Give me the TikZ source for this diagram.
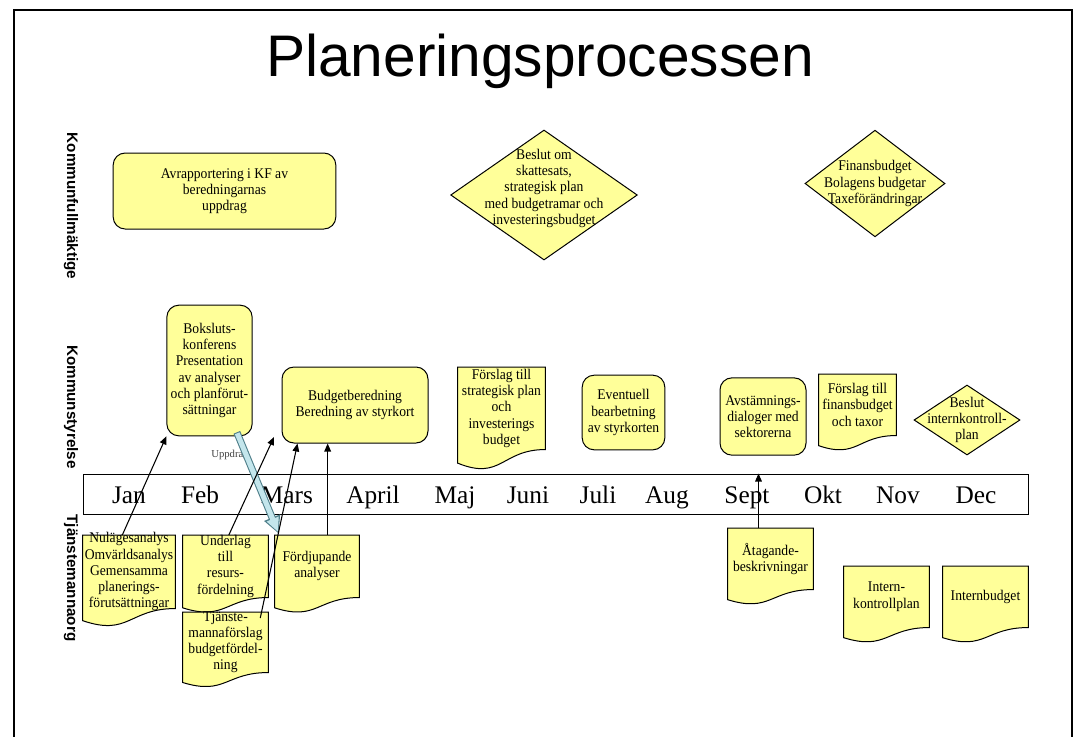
\documentclass[tikz,border=0pt]{standalone}
\usepackage{fontspec}
\setmainfont{Liberation Serif}
\setsansfont{Liberation Sans}
\newfontfamily\planfont[FakeStretch=0.92]{Liberation Serif}
\usetikzlibrary{arrows.meta,positioning,shapes.geometric,calc,backgrounds}
\definecolor{planInk}{HTML}{000000}
\definecolor{planYellow}{HTML}{FFFF99}
\definecolor{planCyan}{HTML}{C4E6EC}
\definecolor{planCyanEdge}{HTML}{4F7F8A}
\definecolor{planGray}{HTML}{404040}
\tikzset{
  every picture/.style={font=\planfont\fontsize{11.1}{12.2}\selectfont, text=planInk},
  every label/.style={align=center, inner sep=0pt},
  plan box/.style={draw=planInk, line width=0.75pt, rounded corners=9pt,
    fill=planYellow, align=center, inner sep=2pt},
  plan doc/.style={inner sep=0pt},
  plan doc fill/.style={draw=planInk, line width=0.75pt, fill=planYellow},
  plan diamond/.style={diamond, draw=planInk, line width=0.75pt,
    fill=planYellow, inner sep=0pt},
  plan arrow/.style={-{Triangle[length=6pt,width=5pt]},
    draw=planInk, line width=0.8pt},
  plan lane/.style={rotate=-90, font=\sffamily\bfseries\fontsize{11.4}{13}\selectfont},
  plan month/.style={anchor=base, font=\rmfamily\fontsize{19}{22}\selectfont},
  uppdrag edge/.style={-{Triangle[length=13pt,width=12pt]},
    draw=planCyanEdge, line width=5.4pt},
  uppdrag fill/.style={-{Triangle[length=10.5pt,width=9pt]},
    draw=planCyan, line width=3.8pt, shorten >=1.4pt, shorten <=0.8pt}
}

\begin{document}
\begin{tikzpicture}[x=0.75pt,y=-0.75pt]
  \useasboundingbox (0,0) rectangle (1080,736);
  \draw[line width=2pt] (14,740) -- (14,10) -- (1072,10) -- (1072,740);
  \node[anchor=base, font=\sffamily\fontsize{44}{50}\selectfont] (title)
    at (540,76) {Planeringsprocessen};

  % lanes
  \node[plan lane] (kf) at (71,206) {Kommunfullmäktige};
  \node[plan lane] (ks) at (71,407) {Kommunstyrelse};
  \node[plan lane] (tj) at (71,578) {Tjänstemannaorg};

  % month bar
  \node[draw=planInk, line width=0.75pt, minimum width=708.75pt,
    minimum height=30pt, inner sep=0pt] (bar) at (555.5,494) {};
  \foreach \x/\m in {129/Jan,200/Feb,287/Mars,373/April,455/Maj,528/Juni,
      598/Juli,667/Aug,747/Sept,823/Okt,898/Nov,976/Dec}
    \node[plan month] (m\m) at (\x,503) {\m};

  % kommunfullmaktige
  \node[plan box, minimum width=167pt, minimum height=57pt] (avr)
    at (224.5,191) {Avrapportering i KF av\\beredningarnas\\uppdrag};
  \node[plan diamond, minimum width=140pt, minimum height=97.5pt,
    label={[yshift=5pt]center:Beslut om\\skattesats,\\strategisk plan\\med budgetramar och\\investeringsbudget}]
    (bes) at (544,195) {};
  \node[plan diamond, minimum width=105pt, minimum height=80pt,
    label={center:Finansbudget\\Bolagens budgetar\\Taxeförändringar}]
    (fin) at (875,183.5) {};

  % kommunstyrelse
  \node[plan box, minimum width=64pt, minimum height=98pt] (bok)
    at (209.5,370.5) {Boksluts-\\konferens\\Presentation\\av analyser\\och planförut-\\sättningar};
  \node[plan box, minimum width=109.5pt, minimum height=57pt] (bud)
    at (355,405) {Budgetberedning\\Beredning av styrkort};
  \node[plan doc, minimum width=65.25pt, minimum height=61.5pt, anchor=north,
    label={center:Förslag till\\strategisk plan\\och\\investerings\\budget}]
    (fsp) at (501.5,367) {};
  \node[plan box, minimum width=62pt, minimum height=56pt] (eve)
    at (623.5,412.5) {Eventuell\\bearbetning\\av styrkorten};
  \node[plan box, minimum width=64.5pt, minimum height=58pt] (avs)
    at (763,416.5) {Avstämnings-\\dialoger med\\sektorerna};
  \node[plan doc, minimum width=57.75pt, minimum height=45.75pt, anchor=north,
    label={center:Förslag till\\finansbudget\\och taxor}]
    (ffb) at (857.5,374) {};
  \node[plan diamond, minimum width=79.5pt, minimum height=52.5pt,
    label={center:Beslut\\internkontroll-\\plan}]
    (bik) at (967,420) {};

  % tjanstemannaorg
  \node[plan doc, minimum width=69pt, minimum height=54.75pt, anchor=north,
    label={center:Nulägesanalys\\Omvärldsanalys\\Gemensamma\\planerings-\\förutsättningar}]
    (nul) at (129,535) {};
  \node[plan doc, minimum width=63.75pt, minimum height=46.5pt, anchor=north,
    label={center:Underlag\\till\\resurs-\\fördelning}]
    (und) at (225.5,535) {};
  \node[plan doc, minimum width=63.75pt, minimum height=45pt, anchor=north,
    label={center:Tjänste-\\mannaförslag\\budgetfördel-\\ning}]
    (tjm) at (225.5,612) {};
  \node[plan doc, minimum width=63pt, minimum height=46.5pt, anchor=north,
    label={center:Fördjupande\\analyser}]
    (ford) at (317,535) {};
  \node[plan doc, minimum width=63.75pt, minimum height=45.75pt, anchor=north,
    label={center:Åtagande-\\beskrivningar}]
    (atag) at (770.5,528) {};
  \node[plan doc, minimum width=63.75pt, minimum height=45.75pt, anchor=north,
    label={center:Intern-\\kontrollplan}]
    (intk) at (886.5,566) {};
  \node[plan doc, minimum width=63.75pt, minimum height=45.75pt, anchor=north,
    label={center:Internbudget}]
    (intb) at (985.5,566) {};

  \begin{scope}[on background layer]
    \foreach \docid in {fsp,ffb,nul,und,tjm,ford,atag,intk,intb}
      \draw[plan doc fill] let \p1=(\docid.north), \p2=(\docid.south), \n1={\y1-\y2} in
        (\docid.north west) -- (\docid.north east) -- (\docid.south east)
        .. controls (\docid.south) and ($(\docid.south)+(0,-0.381*\n1)$) ..
        ($(\docid.south west)+(0,-0.165*\n1)$) -- cycle;
  \end{scope}

  % connectors
  \node[font=\rmfamily\fontsize{8}{9}\selectfont, text=planGray] (upp) at (230,455) {Uppdrag};
  \coordinate (upp start) at ([xshift=20.5pt,yshift=3pt]bok.south);
  \coordinate (upp end) at ([xshift=3pt,yshift=1pt]ford.north west);
  \draw[uppdrag edge] (upp start) -- (upp end);
  \draw[uppdrag fill] (upp start) -- (upp end);

  \coordinate (und tip) at (274,437);
  \coordinate (ford up) at ([xshift=8pt]ford.north);
  \coordinate (atag up) at ([xshift=-9pt]atag.north);
  \draw[plan arrow] ([xshift=-5pt]nul.north) -- (bok.south west);
  \draw[plan arrow] ([xshift=2.5pt]und.north) -- (und tip);
  \draw[plan arrow] ([xshift=-6pt,yshift=-4.5pt]tjm.north east) -- ([xshift=12pt]bud.south west);
  \draw[plan arrow] (ford up) -- (ford up |- bud.south);
  \draw[plan arrow] (atag up) -- (atag up |- bar.north);
\end{tikzpicture}
\end{document}
